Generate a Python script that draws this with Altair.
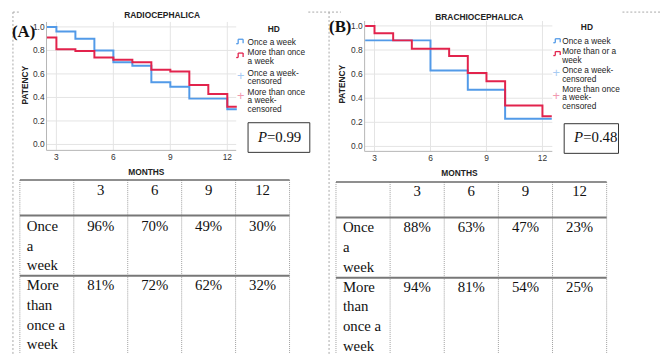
import altair as alt
import pandas as pd

OFF = 8  # page margin: reference pixel -> chart pixel

# ---------------- data ----------------
month_ticks = [3, 6, 9, 12]
patency_ticks = [0.0, 0.2, 0.4, 0.6, 0.8, 1.0]

a_once_months = [2.5, 3, 4, 5, 6, 7, 8, 9, 10, 12, 12.5]
a_once_patency = [1.00, 0.96, 0.90, 0.80, 0.70, 0.67, 0.53, 0.49, 0.39, 0.30, 0.30]
a_more_months = [2.5, 3, 4, 5, 6, 7, 8, 9, 10, 11, 12, 12.5]
a_more_patency = [0.91, 0.81, 0.795, 0.74, 0.72, 0.70, 0.635, 0.62, 0.505, 0.43, 0.32, 0.32]

b_once_months = [2.5, 6, 8, 10, 12.5]
b_once_patency = [0.88, 0.63, 0.47, 0.23, 0.23]
b_more_months = [2.5, 3, 4, 5, 7, 8, 9, 10, 12, 12.5]
b_more_patency = [1.00, 0.94, 0.88, 0.81, 0.75, 0.61, 0.54, 0.34, 0.25, 0.25]

table_periods = ["3", "6", "9", "12"]
a_once_pct = ["96%", "70%", "49%", "30%"]
a_more_pct = ["81%", "72%", "62%", "32%"]
b_once_pct = ["88%", "63%", "47%", "23%"]
b_more_pct = ["94%", "81%", "54%", "25%"]
row_labels = ["Once\na\nweek", "More\nthan\nonce a\nweek"]

legend_a = ["Once a week", "More than once\na week", "Once a week-\ncensored",
            "More than once\na week-\ncensored"]
legend_b = ["Once a week", "More than or a\nweek", "Once a week-\ncensored",
            "More than once\na week-\ncensored"]

BLUE = "#529ae8"
RED = "#e2234c"
BLUE_L = "#a8cbf2"
RED_L = "#f19ab0"
SANS = "Liberation Sans"
SERIF = "Liberation Serif"

one = pd.DataFrame({"k": [0]})


def r(v):
    return v - OFF


def km_panel(once_m, once_p, more_m, more_p, L):
    xs = alt.Scale(domain=[3, 12], range=[r(L["x3"]), r(L["x12"])])
    ys = alt.Scale(domain=[0, 1], range=[r(L["y0"]), r(L["y1"])])
    X = lambda f: alt.X(f, scale=xs, axis=None)
    Y = lambda f: alt.Y(f, scale=ys, axis=None)
    dm = pd.DataFrame({"m": month_ticks})
    dp = pd.DataFrame({"p": patency_ticks})
    grid_v = alt.Chart(dm).mark_rule(color="#e4e4e4", strokeWidth=1).encode(
        x=X("m:Q"), y=alt.value(r(L["top"])), y2=alt.value(r(L["bottom"])))
    grid_h = alt.Chart(dp).mark_rule(color="#e4e4e4", strokeWidth=1).encode(
        y=Y("p:Q"), x=alt.value(r(L["left"])), x2=alt.value(r(L["right"])))
    ylab = alt.Chart(dp).mark_text(align="right", baseline="middle", font=SANS,
                                   fontSize=8.5, color="#333").encode(
        y=Y("p:Q"), x=alt.value(r(L["ylab_x"])), text=alt.Text("p:Q", format=".1f"))
    xlab = alt.Chart(dm).mark_text(align="center", baseline="middle", font=SANS,
                                   fontSize=8.5, color="#333").encode(
        x=X("m:Q"), y=alt.value(r(L["xlab_y"])), text=alt.Text("m:Q"))
    axl = alt.Chart(one).mark_rule(color="#b5b5b5").encode(
        x=alt.value(r(L["left"])), y=alt.value(r(L["top"])), y2=alt.value(r(L["bottom"])))
    axb = alt.Chart(one).mark_rule(color="#b5b5b5").encode(
        y=alt.value(r(L["bottom"])), x=alt.value(r(L["left"])), x2=alt.value(r(L["right"])))
    l_once = alt.Chart(pd.DataFrame({"m": once_m, "p": once_p})).mark_line(
        interpolate="step-after", color=BLUE, strokeWidth=2).encode(x=X("m:Q"), y=Y("p:Q"))
    l_more = alt.Chart(pd.DataFrame({"m": more_m, "p": more_p})).mark_line(
        interpolate="step-after", color=RED, strokeWidth=2).encode(x=X("m:Q"), y=Y("p:Q"))
    return alt.layer(grid_v, grid_h, axl, axb, ylab, xlab, l_once, l_more)


def table_panel(once_vals, more_vals, T):
    tx = alt.Scale(domain=[0, 5], range=[r(T["left"]), r(T["right"])])
    X = lambda f: alt.X(f, scale=tx, axis=None)
    edges = pd.DataFrame({"e": [0, 1, 2, 3, 4, 5]})
    cover = alt.Chart(one).mark_rect(color="white").encode(
        x=alt.value(r(T["left"])), x2=alt.value(r(T["right"])),
        y=alt.value(r(T["top"] - 5)), y2=alt.value(r(T["top"])))
    vlines = alt.Chart(edges).mark_rule(color="#a0a0a0", strokeDash=[1, 1], strokeWidth=1).encode(
        x=X("e:Q"), y=alt.value(r(T["top"])), y2=alt.value(348))
    top = alt.Chart(one).mark_rule(color="#6a6a6a", strokeWidth=1.5).encode(
        x=alt.value(r(T["left"])), x2=alt.value(r(T["right"])), y=alt.value(r(T["top"])))
    sep1 = alt.Chart(one).mark_rule(color="#777777", strokeWidth=2).encode(
        x=alt.value(r(T["left"])), x2=alt.value(r(T["right"])), y=alt.value(r(T["sep1"])))
    sep2 = alt.Chart(one).mark_rule(color="#777777", strokeWidth=2).encode(
        x=alt.value(r(T["left"])), x2=alt.value(r(T["right"])), y=alt.value(r(T["sep2"])))
    cols = [i + 1.5 for i in range(len(table_periods))]
    txt = dict(font=SERIF, fontSize=15, color="#111", baseline="top",
               lineBreak="\n", lineHeight=20)
    header = alt.Chart(pd.DataFrame({"c": cols, "t": table_periods})).mark_text(
        align="center", **txt).encode(x=X("c:Q"), y=alt.value(r(T["hdr"])), text="t:N")
    row1 = alt.Chart(pd.DataFrame({"c": cols, "t": once_vals})).mark_text(
        align="center", **txt).encode(x=X("c:Q"), y=alt.value(r(T["row1"])), text="t:N")
    row2 = alt.Chart(pd.DataFrame({"c": cols, "t": more_vals})).mark_text(
        align="center", **txt).encode(x=X("c:Q"), y=alt.value(r(T["row2"])), text="t:N")
    lab1 = alt.Chart(pd.DataFrame({"c": [0], "t": [row_labels[0]]})).mark_text(
        align="left", dx=T["labdx"], **txt).encode(x=X("c:Q"), y=alt.value(r(T["row1"])), text="t:N")
    lab2 = alt.Chart(pd.DataFrame({"c": [0], "t": [row_labels[1]]})).mark_text(
        align="left", dx=T["labdx"], **txt).encode(x=X("c:Q"), y=alt.value(r(T["row2"])), text="t:N")
    return alt.layer(cover, vlines, top, sep1, sep2, header, row1, row2, lab1, lab2)


def text_at(s, x, y, **kw):
    return alt.Chart(one).mark_text(text=s, **kw).encode(x=alt.value(r(x)), y=alt.value(r(y)))


def rule_at(x, y, x2=None, y2=None, **kw):
    enc = dict(x=alt.value(r(x)), y=alt.value(r(y)))
    if x2 is not None:
        enc["x2"] = alt.value(r(x2))
    if y2 is not None:
        enc["y2"] = alt.value(r(y2))
    return alt.Chart(one).mark_rule(**kw).encode(**enc)


def glyph(x0, ytop, ybot, color):
    return [
        rule_at(x0, ybot, x2=x0 + 2, color=color, strokeWidth=1.3),
        rule_at(x0 + 2, ytop, y2=ybot, color=color, strokeWidth=1.3),
        rule_at(x0 + 2, ytop, x2=x0 + 7, color=color, strokeWidth=1.3),
        rule_at(x0 + 7, ytop, y2=ybot - 0.5, color=color, strokeWidth=1.3),
    ]


def decorations(title, tx, ty, panel_lbl, plx, ply, pat_x, pat_y, mon_x, mon_y,
                hd_x, hd_y, leg_x, leg_ys, leg_lines, g_x, g_blue, g_red, plus_x, plus_ys,
                box, p_x, p_y, p_val):
    out = []
    out.append(text_at(title, tx, ty, font=SANS, fontSize=8.5, fontWeight="bold",
                       color="#222", align="center", baseline="middle"))
    out.append(text_at(panel_lbl, plx, ply, font=SERIF, fontSize=17, fontWeight="bold",
                       color="#111", align="left", baseline="middle"))
    out.append(text_at("PATENCY", pat_x, pat_y, font=SANS, fontSize=8.5, fontWeight="bold",
                       color="#222", align="center", baseline="middle", angle=270))
    out.append(text_at("MONTHS", mon_x, mon_y, font=SANS, fontSize=8.5, fontWeight="bold",
                       color="#222", align="center", baseline="middle"))
    out.append(text_at("HD", hd_x, hd_y, font=SANS, fontSize=8.5, fontWeight="bold",
                       color="#222", align="center", baseline="middle"))
    for s, yy in zip(leg_lines, leg_ys):
        out.append(text_at(s, leg_x, yy - 3.4, font=SANS, fontSize=8.4, color="#222",
                           align="left", baseline="top", lineBreak="\n", lineHeight=8.6))
    out += glyph(g_x, g_blue[0], g_blue[1], BLUE)
    out += glyph(g_x, g_red[0], g_red[1], RED)
    out.append(text_at("+", plus_x, plus_ys[0], font=SANS, fontSize=13, color=BLUE_L,
                       align="center", baseline="middle"))
    out.append(text_at("+", plus_x, plus_ys[1], font=SANS, fontSize=13, color=RED_L,
                       align="center", baseline="middle"))
    bx0, by0, bx1, by1 = box
    out.append(alt.Chart(one).mark_rect(fill="white", stroke="#333", strokeWidth=1).encode(
        x=alt.value(r(bx0)), x2=alt.value(r(bx1)), y=alt.value(r(by0)), y2=alt.value(r(by1))))
    out.append(text_at("P", p_x, p_y, font=SERIF, fontSize=15, fontStyle="italic",
                       color="#111", align="left", baseline="middle"))
    out.append(text_at(p_val, p_x + 9.2, p_y, font=SERIF, fontSize=15,
                       color="#111", align="left", baseline="middle"))
    return out


LA = dict(x3=57, x12=230, y0=144, y1=25, left=47, right=239, top=20, bottom=150,
          ylab_x=45, xlab_y=157)
LB = dict(x3=379, x12=549, y0=146, y1=24, left=369, right=559, top=19, bottom=151,
          ylab_x=367, xlab_y=158)
TA = dict(left=20, right=293, top=180, sep1=216, sep2=277, hdr=183, row1=219.5,
          row2=279.5, labdx=7)
TB = dict(left=340, right=614, top=182, sep1=218, sep2=279, hdr=184.5, row1=221,
          row2=281, labdx=7)

kmA = km_panel(a_once_months, a_once_patency, a_more_months, a_more_patency, LA)
kmB = km_panel(b_once_months, b_once_patency, b_more_months, b_more_patency, LB)
tabA = table_panel(a_once_pct, a_more_pct, TA)
tabB = table_panel(b_once_pct, b_more_pct, TB)

dash = dict(color="#a8a8a8", strokeDash=[2, 2], strokeWidth=1)
frame = [
    rule_at(13, 10, y2=356, **dash),
    rule_at(13, 10, x2=20, **dash),
    rule_at(312, 10, x2=345, **dash),
    rule_at(333, 10, y2=356, **dash),
    rule_at(630, 10, x2=668, **dash),
]

decoA = decorations("RADIOCEPHALICA", 164, 13, "(A)", 12, 30, 25, 84, 148, 172,
                    277, 27, 250.5, [39.3, 50, 70.7, 90], legend_a, 239,
                    (37.5, 42), (51.5, 56), 243.5, [75, 95],
                    (251, 122, 313.5, 152), 261, 137, "=0.99")
decoB = decorations("BRACHIOCEPHALICA", 485, 15, "(B)", 333, 25, 346, 83, 465, 173,
                    594, 25, 569, [39, 49.3, 68.3, 87.3], legend_b, 560,
                    (37, 41), (50, 54), 563, [72, 95],
                    (571, 123, 626, 153), 581, 137, "=0.48")

deco = alt.layer(*(frame + decoA + decoB))

chart = alt.layer(kmA, kmB, deco, tabA, tabB).resolve_scale(
    x="independent", y="independent"
).properties(
    width=660, height=348, padding=0, autosize=alt.AutoSizeParams(type="none")
).configure_view(stroke=None)

chart.save("out.html", embed_options={"renderer": "svg", "actions": False})
